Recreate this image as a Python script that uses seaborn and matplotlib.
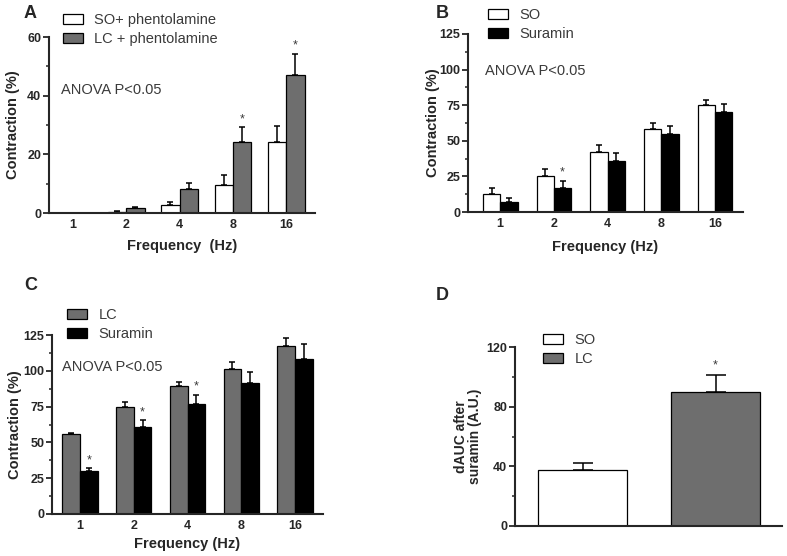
import matplotlib
matplotlib.use("Agg")
import matplotlib.pyplot as plt
import matplotlib.patches as mpatches
from matplotlib.ticker import MultipleLocator
import pandas as pd
import seaborn as sns

FIG_W, FIG_H = 787, 556

freqs = ["1", "2", "4", "8", "16"]

# Panel A
a_groups = ["SO+ phentolamine", "LC + phentolamine"]
a_so = [0, 0.4, 2.8, 9.7, 24.3]
a_so_sem = [0, 0.3, 1.1, 3.3, 5.4]
a_lc = [0, 1.7, 8.2, 24.3, 47.1]
a_lc_sem = [0, 0.5, 2.0, 4.9, 7.1]
a_sig = [[False] * 5, [False, False, False, True, True]]

# Panel B
b_groups = ["SO", "Suramin"]
b_so = [12.4, 25.3, 42.2, 58.5, 75.4]
b_so_sem = [4.3, 5.1, 4.6, 4.0, 3.1]
b_sur = [7.0, 16.6, 35.8, 54.8, 70.5]
b_sur_sem = [2.9, 5.2, 5.7, 5.3, 5.6]
b_sig = [[False] * 5, [False, True, False, False, False]]

# Panel C
c_groups = ["LC", "Suramin"]
c_lc = [56.1, 74.8, 89.3, 101.5, 117.4]
c_lc_sem = [0.8, 3.2, 3.2, 4.7, 5.3]
c_sur = [30.2, 60.6, 76.9, 91.6, 108.3]
c_sur_sem = [1.9, 4.7, 6.3, 7.4, 10.5]
c_sig = [[False] * 5, [True, True, True, False, False]]

# Panel D
d_groups = ["SO", "LC"]
d_vals = [37.7, 89.9]
d_sem = [4.5, 11.2]
d_sig = [False, True]

WHITE, GRAY, BLACK = "#ffffff", "#6e6e6e", "#000000"
TEXT_GRAY = "#3a3a3a"


def px_box(left, right, top, bottom):
    return [left / FIG_W, 1 - bottom / FIG_H, (right - left) / FIG_W, (bottom - top) / FIG_H]


def fx(x):
    return x / FIG_W


def fy(y):
    return 1 - y / FIG_H


def style_axis(ax, ymax, major, minor, xlim):
    ax.set_ylim(0, ymax)
    ax.set_xlim(*xlim)
    ax.yaxis.set_major_locator(MultipleLocator(major))
    ax.yaxis.set_minor_locator(MultipleLocator(minor))
    sns.despine(ax=ax)
    for s in ["left", "bottom"]:
        ax.spines[s].set_linewidth(1.5)
    ax.tick_params(axis="y", which="major", length=4, width=1.3, labelsize=9, pad=1.5)
    ax.tick_params(axis="y", which="minor", length=2.5, width=1.1)
    ax.tick_params(axis="x", length=0, labelsize=9, pad=4)
    for lab in ax.get_xticklabels() + ax.get_yticklabels():
        lab.set_fontweight("bold")


def add_errors(ax, sems, sigs, capsize=2.5, star_pad=1.5):
    for cont, sem_list, sig_list in zip(ax.containers, sems, sigs):
        for bar, e, sig in zip(cont, sem_list, sig_list):
            x = bar.get_x() + bar.get_width() / 2
            h = bar.get_height()
            if e > 0:
                ax.errorbar(x, h, yerr=[[0], [e]], fmt="none", ecolor="black",
                            elinewidth=1.1, capsize=capsize, capthick=1.1, zorder=1)
            if sig:
                ax.annotate("*", (x, h + e), xytext=(0, star_pad), textcoords="offset points",
                            ha="center", va="bottom", fontsize=9, color=TEXT_GRAY)


def grouped_panel(fig, box, groups, series, sems, sigs, colors, width, ymax, major, minor,
                  xlim, xlabel):
    ax = fig.add_axes(px_box(*box))
    df = pd.DataFrame({
        "freq": freqs * len(groups),
        "group": [g for g in groups for _ in freqs],
        "value": [v for s in series for v in s],
    })
    sns.barplot(data=df, x="freq", y="value", hue="group", order=freqs, hue_order=groups,
                palette=colors, width=width, saturation=1, edgecolor="black", linewidth=0.9,
                errorbar=None, legend=False, ax=ax, zorder=2)
    add_errors(ax, sems, sigs)
    style_axis(ax, ymax, major, minor, xlim)
    ax.set_ylabel("Contraction (%)", fontsize=10.5, fontweight="bold")
    ax.set_xlabel(xlabel, fontsize=10.5, fontweight="bold")
    return ax


def place_labels(ax, box, ylab_x, xlab_top=None):
    # ylab_x: right edge of the rotated y label, xlab_top: top of the x label (pixels)
    left, right, top, bottom = box
    ax.yaxis.set_label_coords((ylab_x - left) / (right - left), 0.5)
    if xlab_top is not None:
        ax.xaxis.set_label_coords(0.5, -(xlab_top - bottom) / (bottom - top))


def add_legend(ax, fig, labels, colors, x, y):
    handles = [mpatches.Patch(facecolor=c, edgecolor="black", linewidth=0.9) for c in colors]
    leg = ax.legend(handles, labels, loc="upper left", bbox_to_anchor=(fx(x), fy(y)),
                    bbox_transform=fig.transFigure, frameon=False, fontsize=10.5,
                    handlelength=1.35, handleheight=0.7, handletextpad=0.8,
                    labelspacing=0.35, borderpad=0, borderaxespad=0)
    for t in leg.get_texts():
        t.set_color(TEXT_GRAY)


sns.set_style("ticks")
plt.rcParams["font.family"] = ["Liberation Sans", "DejaVu Sans"]

fig = plt.figure(figsize=(FIG_W / 100, FIG_H / 100), dpi=100)

# A
box_a = (49, 315, 37, 213)
ax_a = grouped_panel(fig, box_a, a_groups, [a_so, a_lc], [a_so_sem, a_lc_sem], a_sig,
                     [WHITE, GRAY], 0.69, 60, 20, 10, (-0.45, 4.54), "Frequency  (Hz)")
place_labels(ax_a, box_a, 20, 239)
add_legend(ax_a, fig, a_groups, [WHITE, GRAY], 63, 13)
fig.text(fx(61), fy(90), "ANOVA P<0.05", fontsize=10.5, color=TEXT_GRAY, va="center")
fig.text(fx(24), fy(14), "A", fontsize=13, fontweight="bold", va="center")

# B
box_b = (468, 743, 34, 212)
ax_b = grouped_panel(fig, box_b, b_groups, [b_so, b_sur], [b_so_sem, b_sur_sem], b_sig,
                     [WHITE, BLACK], 0.645, 125, 25, 12.5, (-0.6, 4.52), "Frequency (Hz)")
place_labels(ax_b, box_b, 440, 240)
add_legend(ax_b, fig, b_groups, [WHITE, BLACK], 488, 8)
fig.text(fx(485), fy(71), "ANOVA P<0.05", fontsize=10.5, color=TEXT_GRAY, va="center")
fig.text(fx(436), fy(14), "B", fontsize=13, fontweight="bold", va="center")

# C
box_c = (52, 323, 335, 514)
ax_c = grouped_panel(fig, box_c, c_groups, [c_lc, c_sur], [c_lc_sem, c_sur_sem], c_sig,
                     [GRAY, BLACK], 0.66, 125, 25, 12.5, (-0.52, 4.52), "Frequency (Hz)")
place_labels(ax_c, box_c, 22, 537)
add_legend(ax_c, fig, c_groups, [GRAY, BLACK], 67, 308)
fig.text(fx(62), fy(367), "ANOVA P<0.05", fontsize=10.5, color=TEXT_GRAY, va="center")
fig.text(fx(24), fy(285), "C", fontsize=13, fontweight="bold", va="center")

# D
box_d = (515, 782, 347, 526)
ax_d = fig.add_axes(px_box(*box_d))
df_d = pd.DataFrame({"group": d_groups, "value": d_vals})
sns.barplot(data=df_d, x="group", y="value", hue="group", order=d_groups, hue_order=d_groups,
            palette=[WHITE, GRAY], width=0.67, saturation=1, edgecolor="black", linewidth=0.9,
            errorbar=None, legend=False, ax=ax_d, zorder=2)
for bar, e, sig in zip(ax_d.patches, d_sem, d_sig):
    x = bar.get_x() + bar.get_width() / 2
    h = bar.get_height()
    ax_d.errorbar(x, h, yerr=[[0], [e]], fmt="none", ecolor="black",
                  elinewidth=1.1, capsize=7.5, capthick=1.1, zorder=1)
    if sig:
        ax_d.annotate("*", (x, h + e), xytext=(0, 2.5), textcoords="offset points",
                      ha="center", va="bottom", fontsize=9, color=TEXT_GRAY)
style_axis(ax_d, 120, 40, 20, (-0.51, 1.5))
ax_d.set_xticklabels([])
ax_d.set_xlabel("")
ax_d.set_ylabel("dAUC after\nsuramin (A.U.)", fontsize=10, fontweight="bold", linespacing=1.0)
place_labels(ax_d, box_d, 482)
add_legend(ax_d, fig, d_groups, [WHITE, GRAY], 543, 333)
fig.text(fx(436), fy(295), "D", fontsize=13, fontweight="bold", va="center")

fig.savefig("out.png", dpi=100)
